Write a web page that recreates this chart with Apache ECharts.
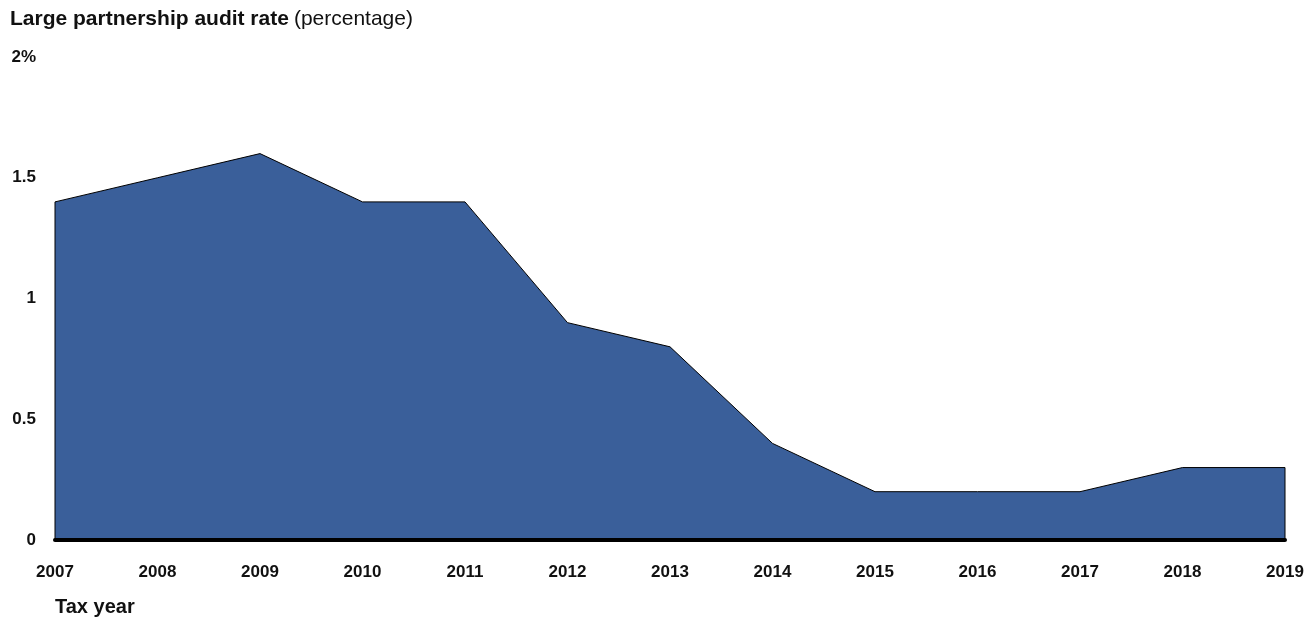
<!DOCTYPE html>
<html><head><meta charset="utf-8">
<script src="https://cdn.jsdelivr.net/npm/echarts@6/dist/echarts.min.js"></script>
<style>html,body{margin:0;padding:0;background:#fff}#c{width:1309px;height:618px}</style>
</head><body><div id="c"></div>
<script>
const years = [2007,2008,2009,2010,2011,2012,2013,2014,2015,2016,2017,2018,2019];
const auditRate = [1.4,1.5,1.6,1.4,1.4,0.9,0.8,0.4,0.2,0.2,0.2,0.3,0.3];
const yTicks = [0,0.5,1,1.5,2];
const yTickLabels = ['0','0.5','1','1.5','2%'];

// Outline polygon: down to zero at both ends so vertical edges are drawn
const pts = [[years[0],0]].concat(years.map((y,i)=>[y,auditRate[i]])).concat([[years[years.length-1],0]]);

const FF = 'Liberation Sans, Arial, sans-serif';
const chart = echarts.init(document.getElementById('c'));
chart.setOption({
  animation:false,
  backgroundColor:'#fff',
  textStyle:{fontFamily:FF},
  title:{
    left:5, top:4,
    text:'{b|Large partnership audit rate} {n|(percentage)}',
    textStyle:{rich:{
      b:{fontSize:21,fontWeight:'bold',color:'#111',fontFamily:FF},
      n:{fontSize:21,fontWeight:'normal',color:'#111',fontFamily:FF}
    }}
  },
  graphic:[{type:'text',left:55,top:597,style:{text:'Tax year',font:'bold 20px Liberation Sans, Arial, sans-serif',fill:'#111'}}],
  grid:{left:55,right:24,top:57,bottom:78,containLabel:false},
  xAxis:{
    type:'value',min:years[0],max:years[years.length-1],interval:1,z:5,
    axisLine:{show:true,onZero:false,lineStyle:{color:'#000',width:4}},
    axisTick:{show:false},splitLine:{show:false},
    axisLabel:{margin:24,fontSize:17,fontWeight:'bold',color:'#111',formatter:v=>String(v),showMinLabel:true,showMaxLabel:true}
  },
  yAxis:{
    type:'value',min:0,max:2,interval:0.5,
    axisLine:{show:false},axisTick:{show:false},splitLine:{show:false},
    axisLabel:{margin:19,fontSize:17,fontWeight:'bold',color:'#111',
      formatter:v=>{const i=yTicks.indexOf(v);return i>=0?yTickLabels[i]:'';}}
  },
  series:[{
    type:'line',data:pts,symbol:'none',z:1,
    lineStyle:{color:'#000',width:1},
    areaStyle:{color:'#3A5F9A',opacity:1,origin:0}
  }]
});
</script></body></html>
